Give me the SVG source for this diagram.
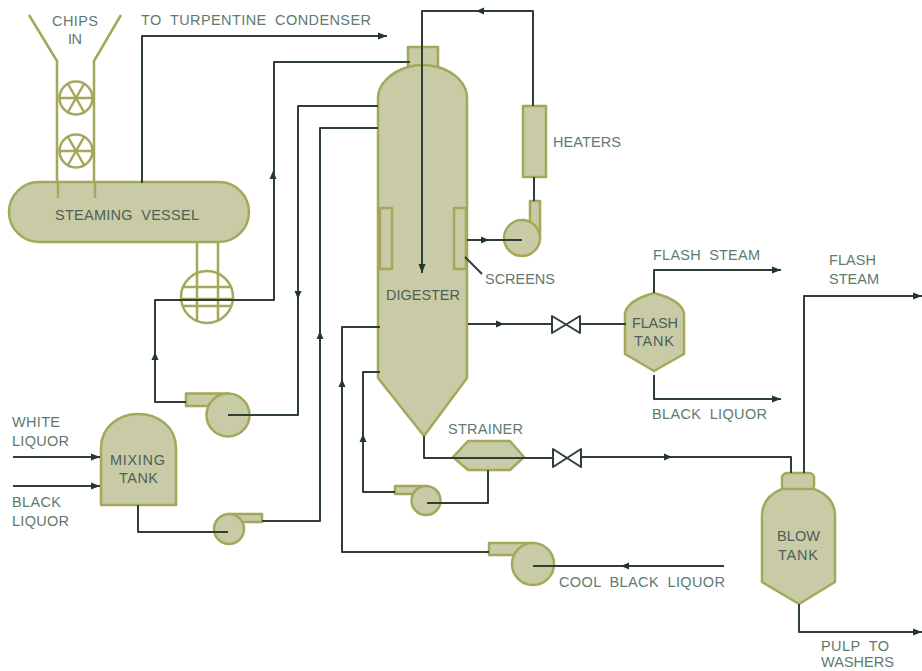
<svg xmlns="http://www.w3.org/2000/svg" width="922" height="671" viewBox="0 0 922 671">
<style>
.v{fill:#c9cba6;stroke:#a3a85a;stroke-width:2.500;stroke-linejoin:round}
.o{fill:none;stroke:#a3a85a;stroke-width:2.500;stroke-linejoin:round}
.p{fill:none;stroke:#2e3f38;stroke-width:2;stroke-linejoin:round}
.vl{fill:#fff;stroke:#2e3f38;stroke-width:2;stroke-linejoin:round}
.a{fill:#26352f}
text{font-family:"Liberation Sans",Arial,sans-serif;font-size:14.500px;fill:#5f7a70;word-spacing:4px}
.d{fill:#4d6058}
</style>
<defs>
<path id="ah" class="a" d="M4 0L-4 -3.500L-4 3.500Z"/>
<marker id="end" markerUnits="userSpaceOnUse" markerWidth="10" markerHeight="8" refX="9" refY="4" orient="auto"><path class="a" d="M9 4L0 .5L0 7.500Z"/></marker>
</defs>
<rect width="922" height="671" fill="#fff"/>

<g id="hopper">
<path class="o" d="M29 15L57 61V198M121 15L94 61V198"/>
<circle class="o" cx="76" cy="98" r="16.500"/>
<path class="o" d="M60 98H92M68 84L84 112M84 84L68 112"/>
<circle class="o" cx="76" cy="151" r="16.500"/>
<path class="o" d="M60 151H92M68 137L84 165M84 137L68 165"/>
</g>
<g id="steaming-vessel">
<rect class="v" x="9" y="182" width="240" height="60" rx="30" ry="30"/>
<path class="o" d="M58 183V198M95 183V198"/>
<text x="55" y="220" textLength="144" class="d">STEAMING VESSEL</text>
</g>
<g id="rotary-feeder">
<path class="o" d="M197 242V276M218 242V276"/>
<circle class="o" cx="207" cy="297" r="26"/>
<path class="o" d="M197 272V321M218 272V321M183 287H232M181 299H233M183 306H232"/>
</g>
<g id="digester">
<path class="v" d="M408 67V47H438V67C455 72 467 84 467 98V378L424 436L378 378V98C378 84 391 72 408 67Z"/>
<path class="o" d="M408 67Q422 63 438 67"/>
<rect class="o" x="380" y="208" width="12" height="61"/>
<rect class="o" x="454" y="208" width="12" height="61"/>
<text x="386" y="300" textLength="74" class="d">DIGESTER</text>
</g>
<g id="heaters">
<rect class="v" x="523" y="106" width="23" height="71"/>
<text x="553" y="147" textLength="68">HEATERS</text>
</g>
<g id="heater-pump">
<rect class="v" x="530" y="201" width="10" height="37"/>
<circle class="v" cx="522" cy="238" r="18"/>
</g>
<g id="flash-tank">
<path class="v" d="M625 313Q628 300 654 293Q681 300 684 313V354L654 371L625 354Z"/>
<text x="632" y="328" textLength="46" class="d">FLASH</text>
<text x="634" y="346" textLength="40" class="d">TANK</text>
</g>
<g id="blow-tank">
<rect class="v" x="782" y="473" width="32" height="18" rx="5"/>
<path class="v" d="M782 489Q762 497 762 516V582L799 604L835 582V516Q835 497 814 489Z"/>
<text x="777" y="541" textLength="43" class="d">BLOW</text>
<text x="778" y="560" textLength="40" class="d">TANK</text>
</g>
<g id="mixing-tank">
<path class="v" d="M101 505V448C101 426 120 414 138 414C157 414 176 426 176 448V505Z"/>
<text x="110" y="465" textLength="55" class="d">MIXING</text>
<text x="119" y="483" textLength="39" class="d">TANK</text>
</g>
<g id="strainer">
<path class="v" d="M453 457L468 441H510L524 457L510 470H468Z"/>
<text x="448" y="434" textLength="75">STRAINER</text>
</g>
<g id="pump-1">
<rect class="v" x="186" y="393.500" width="42" height="12.500"/>
<circle class="v" cx="228" cy="415" r="21.500"/>
</g>
<g id="pump-2">
<rect class="v" x="229" y="514" width="33" height="8"/>
<circle class="v" cx="229" cy="529" r="15"/>
</g>
<g id="pump-3">
<rect class="v" x="395" y="486" width="31" height="8"/>
<circle class="v" cx="426" cy="500.500" r="14.500"/>
</g>
<g id="pump-4">
<rect class="v" x="489" y="543" width="44" height="12"/>
<circle class="v" cx="533" cy="564" r="21"/>
</g>
<g id="valve-1"><path class="vl" d="M552 316V333L580 316V333Z"/></g>
<g id="valve-2"><path class="vl" d="M553 449V467L581 449V467Z"/></g>

<g id="connectors">
<path class="p" marker-end="url(#end)" d="M142 183V36H387"/>
<path class="p" d="M186 402H155V300H274V62H410"/>
<path class="p" d="M228 415H298V106H378"/>
<path class="p" d="M262 521H320V128H378"/>
<path class="p" marker-end="url(#end)" d="M533 106V11H422V273"/>
<path class="p" d="M534 177V201"/>
<path class="p" d="M467 240H522"/>
<path class="p" stroke-width="1.500" d="M465 257L482 274"/>
<path class="p" d="M468 324H552M580 324H626"/>
<path class="p" marker-end="url(#end)" d="M654 293V270H781"/>
<path class="p" marker-end="url(#end)" d="M654 375V399H781"/>
<path class="p" d="M424 436V458H553M581 457H791V473"/>
<path class="p" marker-end="url(#end)" d="M804 473V296H922"/>
<path class="p" marker-end="url(#end)" d="M799 604V632H922"/>
<path class="p" d="M488 470V503H427"/>
<path class="p" d="M395 492H363V372H380"/>
<path class="p" d="M489 552H342V327H380"/>
<path class="p" d="M724 566H533"/>
<path class="p" marker-end="url(#end)" d="M13 457H100"/>
<path class="p" marker-end="url(#end)" d="M13 486H100"/>
<path class="p" d="M138 505V532H228"/>
<use href="#ah" transform="translate(273,175) rotate(-90)"/>
<use href="#ah" transform="translate(155,356) rotate(-90)"/>
<use href="#ah" transform="translate(298,295) rotate(90)"/>
<use href="#ah" transform="translate(320,335) rotate(-90)"/>
<use href="#ah" transform="translate(342,383) rotate(-90)"/>
<use href="#ah" transform="translate(363,438) rotate(-90)"/>
<use href="#ah" transform="translate(480,11) rotate(180)"/>
<use href="#ah" transform="translate(485,240)"/>
<use href="#ah" transform="translate(500,324)"/>
<use href="#ah" transform="translate(668,457)"/>
<use href="#ah" transform="translate(625,566) rotate(180)"/>
</g>

<g id="labels">
<text x="52" y="26" textLength="46">CHIPS</text>
<text x="68" y="44" textLength="14">IN</text>
<text x="141" y="25" textLength="230">TO TURPENTINE CONDENSER</text>
<text x="485" y="284" textLength="70">SCREENS</text>
<text x="653" y="260" textLength="107">FLASH STEAM</text>
<text x="829" y="265" textLength="47">FLASH</text>
<text x="829" y="284" textLength="50">STEAM</text>
<text x="652" y="419" textLength="115">BLACK LIQUOR</text>
<text x="559" y="587" textLength="166">COOL BLACK LIQUOR</text>
<text x="821" y="651" textLength="68">PULP TO</text>
<text x="821" y="667" textLength="73">WASHERS</text>
<text x="12" y="427" textLength="48">WHITE</text>
<text x="12" y="446" textLength="57">LIQUOR</text>
<text x="12" y="507" textLength="49">BLACK</text>
<text x="12" y="526" textLength="57">LIQUOR</text>
</g>
</svg>
